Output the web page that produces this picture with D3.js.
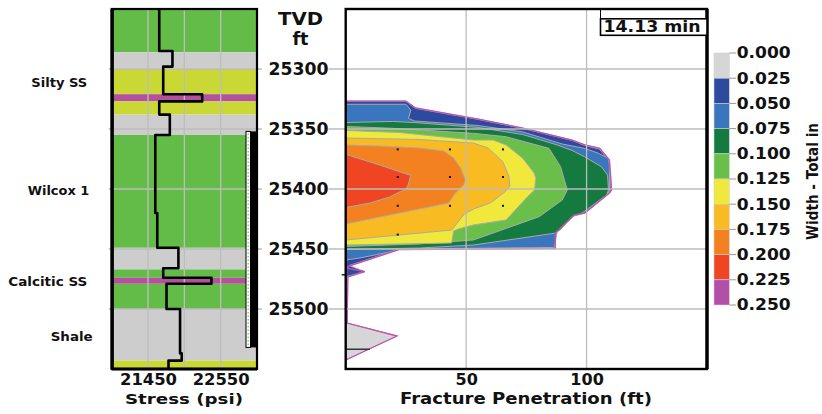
<!DOCTYPE html>
<html><head><meta charset="utf-8">
<script src="https://cdn.jsdelivr.net/npm/d3@7"></script>
<style>
body{margin:0;background:#fff}
svg{display:block}
text{font-family:"DejaVu Sans";font-weight:bold;fill:#111}
</style>
</head><body>
<svg id="c" width="822" height="414"></svg>
<script>
// ---------------- DATA ----------------
const depthTicks = [25300, 25350, 25400, 25450, 25500];
const stressTicks = [21450, 22550];
const stressGrid = [21450, 22000, 22550];
const penTicks = [50, 100];
const widthLevels = [0.000, 0.025, 0.050, 0.075, 0.100, 0.125, 0.150, 0.175, 0.200, 0.225, 0.250];
const levelColors = ["#d6d6d6", "#2e4a9e", "#3a76be", "#157a3f", "#6abf4b", "#f0e83a", "#f9bb22", "#f48120", "#ef4523", "#b34fa8"];

// lithology column
const lithBounds = [25250, 25286, 25300, 25321, 25327, 25338, 25355, 25449, 25467, 25474, 25479, 25500, 25543, 25550];
const lithTypes = ["sand", "shale", "silty", "tight", "silty", "shale", "sand", "shale", "sand", "tight", "sand", "shale", "silty"];

// stress profile (step intervals)
const stressBounds = [25250, 25285, 25298, 25321, 25327, 25338, 25355, 25420, 25449, 25466, 25474, 25479, 25500, 25537, 25543, 25550];
const stressVals = [21620, 21820, 21680, 22270, 21620, 21780, 21560, 21590, 21910, 21680, 22410, 21730, 21935, 21960, 21760];

// formation names and depths
const formationNames = ["Silty SS", "Wilcox 1", "Calcitic SS", "Shale"];
const formationDepths = [25311, 25401.5, 25477, 25523];

// perforated interval
const perfInterval = [25352, 25532];

// fracture width contours [penetration ft, depth ft] : region width >= level
const fracOutline = [[0,25326.7],[25,25326.7],[29,25332.5],[55,25341.7],[73.5,25349.2],[94,25359.2],[99.3,25363.3],[105.5,25366.2],[109.5,25375.8],[110.4,25400.8],[109.5,25403.3],[99.3,25420],[94.8,25421.7],[87,25436.7],[87,25449.6],[22.3,25450.4],[1.4,25464.2],[0.2,25465.8],[7.9,25468.8],[0.9,25473.3],[0.6,25511.7],[21.3,25522.5],[0,25542.5]];
const w025 = [[0,25327],[25,25327],[29,25332.8],[55,25342],[73.5,25349.5],[94,25359.5],[99.3,25363.8],[105.3,25366.7],[109.3,25376],[110.2,25400.8],[109.3,25403],[99.3,25419.7],[94.8,25421.4],[87,25436.4],[87,25449.3],[22.3,25450],[1.4,25463.8],[7.9,25468.7],[0.4,25473]];
const w050 = [[0,25329.4],[25,25329.4],[27,25334.2],[26.1,25341.1],[28.4,25343.3],[55,25347.1],[73.5,25352.5],[89.9,25362.5],[99.3,25366.2],[104.9,25370.2],[109,25374.4],[109.5,25380],[109.5,25400.8],[108.7,25404.2],[99.3,25420.2],[94.8,25422.5],[87.8,25435.8],[86.6,25448.7],[22.3,25450],[18.2,25452.5],[5.9,25457.5],[0,25459.2]];
const w075 = [[0,25344.6],[19.4,25343.7],[28.4,25344.6],[55,25348.7],[73.5,25354.6],[87.8,25363.3],[94,25367.9],[99.3,25373.3],[106.3,25381.7],[108.7,25388.3],[109.1,25400.8],[108.3,25405],[99.3,25418.3],[98.1,25420],[94,25422.9],[89.1,25434.2],[86.6,25436.9],[53,25446.7],[30.5,25449.2],[0,25450.4]];
const w100 = [[0,25347.9],[19.4,25349.4],[53,25353.6],[66.5,25356.4],[84.4,25366.1],[89.2,25381.4],[90.6,25391.1],[92,25400.8],[89.9,25409.2],[80.3,25423.1],[53,25442.5],[30.5,25445.8],[0,25447.9]];
const w125 = [[0,25351.2],[22.3,25352.9],[53,25359.2],[61.2,25359.2],[66.6,25363.3],[73.5,25374.4],[78.3,25386.9],[78.9,25391.1],[78.4,25400.8],[75.5,25406.4],[66.6,25425.8],[53,25430],[46.8,25433.3],[44.8,25435],[44,25445],[22.3,25445.8],[0,25446.7]];
const w150 = [[0,25357.5],[30.5,25358.7],[53,25361.7],[59.1,25365.8],[65.3,25377.5],[67.7,25389.2],[68.2,25397.5],[66.1,25402.5],[60,25411.7],[53,25416.7],[49.3,25420.8],[44,25434.2],[22.3,25438.3],[0,25442.5]];
const w175 = [[0,25363.3],[14.1,25364.2],[30.5,25365.8],[40.7,25368.3],[44.8,25374.2],[47.7,25382.5],[49.7,25392.5],[48.9,25396.7],[45.6,25403.3],[42.7,25411.7],[31.7,25416.2],[18.2,25421.7],[0,25429.2]];
const w200 = [[0,25371.1],[14.1,25380],[27,25388.7],[25.9,25396.7],[24.7,25400.8],[22.3,25402.5],[18.2,25406.7],[10,25411.7],[0,25415.4]];
const contourSets = [fracOutline, w025, w050, w075, w100, w125, w150, w175, w200];

// grid nodes shown as dots
const nodeDots = [[21.6,25367],[43.3,25367],[65.3,25367],[21.6,25390],[43.3,25390],[65.3,25390],[21.6,25414],[43.3,25414],[65.3,25414],[21.6,25438]];
// wellbore trace in lower lobe
const wellTrace = [[0,25533.6],[10,25533.6]];

const timeLabel = "14.13 min";

// ---------------- STYLE / LAYOUT ----------------
const lithColor = {sand: "#64bc48", shale: "#cdcdcd", silty: "#c9d835", tight: "#b5509f"};
const formationLayout = [{x: 87.3, w: 56}, {x: 89.3, w: 61.6}, {x: 87.3, w: 79}, {x: 92.7, w: 42}];
const gridColor = "#bdbdbd";

const svg = d3.select("#c");
const yS = d3.scaleLinear().domain([25250, 25550]).range([9, 369]);
const xS = d3.scaleLinear().domain([20900, 23100]).range([111.7, 257]);
const xP = d3.scaleLinear().domain([0, 150]).range([345.7, 707]);
const lS = d3.scaleLinear().domain([0, 0.25]).range([53, 305]);

// ---------- Left panel ----------
const gL = svg.append("g");
gL.selectAll("rect.lith").data(lithTypes).join("rect")
  .attr("x", xS(20900)).attr("width", xS(23100) - xS(20900))
  .attr("y", (d, i) => yS(lithBounds[i]))
  .attr("height", (d, i) => yS(lithBounds[i + 1]) - yS(lithBounds[i]))
  .attr("fill", d => lithColor[d]);

gL.selectAll("line.vg").data(stressGrid).join("line")
  .attr("x1", d => xS(d)).attr("x2", d => xS(d))
  .attr("y1", yS(25250)).attr("y2", yS(25550))
  .attr("stroke", gridColor).attr("stroke-width", 1.3);
gL.selectAll("line.hg").data(depthTicks).join("line")
  .attr("x1", xS(20900) - 3).attr("x2", xS(23100) + 5)
  .attr("y1", d => yS(d)).attr("y2", d => yS(d))
  .attr("stroke", gridColor).attr("stroke-width", 1.3);

// perforation marker
const pT = yS(perfInterval[0]), pB = yS(perfInterval[1]);
gL.append("rect").attr("x", 246).attr("y", pT).attr("width", 4.5).attr("height", pB - pT)
  .attr("fill", "#fff").attr("stroke", "#000").attr("stroke-width", 1);
gL.append("line").attr("x1", 248.2).attr("x2", 248.2).attr("y1", pT + 2).attr("y2", pB - 2)
  .attr("stroke", "#7cc06a").attr("stroke-width", 1.2).attr("stroke-dasharray", "1.5,2");
gL.append("rect").attr("x", 250.5).attr("y", pT).attr("width", 7).attr("height", pB - pT).attr("fill", "#000");

// stress profile
const stressPts = [];
stressVals.forEach((v, i) => { stressPts.push([v, stressBounds[i]]); stressPts.push([v, stressBounds[i + 1]]); });
gL.append("path")
  .attr("d", d3.line().x(d => xS(d[0])).y(d => yS(d[1]))(stressPts))
  .attr("fill", "none").attr("stroke", "#000").attr("stroke-width", 2.6).attr("stroke-linejoin", "round");

// frame
gL.append("rect").attr("x", xS(20900)).attr("y", yS(25250))
  .attr("width", xS(23100) - xS(20900)).attr("height", yS(25550) - yS(25250))
  .attr("fill", "none").attr("stroke", "#000").attr("stroke-width", 2.2);
gL.append("line").attr("x1", xS(20900) + 0.5).attr("x2", xS(20900) + 0.5).attr("y1", yS(25250)).attr("y2", yS(25550))
  .attr("stroke", "#000").attr("stroke-width", 3.4);
gL.append("line").attr("x1", xS(20900)).attr("x2", xS(23100)).attr("y1", yS(25550)).attr("y2", yS(25550))
  .attr("stroke", "#000").attr("stroke-width", 3);

// formation labels
svg.selectAll("text.form").data(formationNames).join("text")
  .attr("x", (d, i) => formationLayout[i].x)
  .attr("y", (d, i) => yS(formationDepths[i]) + 4.5)
  .attr("text-anchor", "end")
  .attr("font-size", 12.5)
  .attr("textLength", (d, i) => formationLayout[i].w).attr("lengthAdjust", "spacingAndGlyphs")
  .text(d => d);

// stress axis
const aS = svg.append("g").attr("transform", `translate(0,${yS(25550)})`)
  .call(d3.axisBottom(xS).tickValues(stressTicks).tickSize(0).tickPadding(5).tickFormat(d3.format("d")));
aS.select(".domain").remove();
aS.selectAll("text").style("font-family", "DejaVu Sans").style("font-weight", "bold").style("font-size", "16px")
  .attr("textLength", 57).attr("lengthAdjust", "spacingAndGlyphs");
svg.append("text").attr("x", 184).attr("y", 403.5).attr("text-anchor", "middle")
  .attr("font-size", 14.5).attr("textLength", 118).attr("lengthAdjust", "spacingAndGlyphs").text("Stress (psi)");

// TVD axis
svg.append("text").attr("x", 300.5).attr("y", 25).attr("text-anchor", "middle").attr("font-size", 17.5)
  .attr("textLength", 45).attr("lengthAdjust", "spacingAndGlyphs").text("TVD");
svg.append("text").attr("x", 300.5).attr("y", 45).attr("text-anchor", "middle").attr("font-size", 17.5).text("ft");
const aD = svg.append("g").attr("transform", "translate(328.5,0)")
  .call(d3.axisLeft(yS).tickValues(depthTicks).tickSize(0).tickPadding(0).tickFormat(d3.format("d")));
aD.select(".domain").remove();
aD.selectAll("text").style("font-family", "DejaVu Sans").style("font-weight", "bold").style("font-size", "17px")
  .attr("textLength", 60).attr("lengthAdjust", "spacingAndGlyphs");

// ---------- Right contour plot ----------
const defs = svg.append("defs");
defs.append("clipPath").attr("id", "clipP").append("rect")
  .attr("x", xP(0)).attr("y", yS(25250)).attr("width", xP(150) - xP(0)).attr("height", yS(25550) - yS(25250));
const gP = svg.append("g").attr("clip-path", "url(#clipP)");
const poly = d3.line().x(d => xP(d[0])).y(d => yS(d[1]));

gP.selectAll("path.lvl").data(contourSets).join("path")
  .attr("d", d => poly(d) + "Z")
  .attr("fill", (d, i) => levelColors[i])
  .attr("stroke", "#a9a9a9").attr("stroke-width", 1);

// grid lines on top
svg.selectAll("line.pv").data(penTicks).join("line")
  .attr("x1", d => xP(d)).attr("x2", d => xP(d)).attr("y1", yS(25250)).attr("y2", yS(25550))
  .attr("stroke", gridColor).attr("stroke-width", 1.3);
svg.selectAll("line.ph").data(depthTicks).join("line")
  .attr("x1", 328.5).attr("x2", xP(150)).attr("y1", d => yS(d)).attr("y2", d => yS(d))
  .attr("stroke", gridColor).attr("stroke-width", 1.3);

// outer fracture outline
gP.append("path").attr("d", poly(fracOutline))
  .attr("fill", "none").attr("stroke", "#c24fb3").attr("stroke-width", 1.3);

// wellbore trace
gP.append("path").attr("d", poly(wellTrace)).attr("stroke", "#333").attr("stroke-width", 1.5);
svg.append("line").attr("x1", xP(0) - 4).attr("x2", xP(0)).attr("y1", yS(25471.5)).attr("y2", yS(25471.5))
  .attr("stroke", "#000").attr("stroke-width", 1.3);

// node dots
gP.selectAll("rect.dot").data(nodeDots).join("rect")
  .attr("x", d => xP(d[0]) - 1).attr("y", d => yS(d[1]) - 1)
  .attr("width", 2).attr("height", 2).attr("fill", "#111");

// frame
svg.append("rect").attr("x", xP(0)).attr("y", yS(25250))
  .attr("width", xP(150) - xP(0)).attr("height", yS(25550) - yS(25250))
  .attr("fill", "none").attr("stroke", "#000").attr("stroke-width", 2.4);
svg.append("line").attr("x1", xP(150)).attr("x2", xP(150)).attr("y1", yS(25250)).attr("y2", yS(25550))
  .attr("stroke", "#000").attr("stroke-width", 3.4);

// time box
svg.append("line").attr("x1", 600.5).attr("x2", 600.5).attr("y1", 9).attr("y2", 19).attr("stroke", "#000").attr("stroke-width", 1);
svg.append("rect").attr("x", 600.5).attr("y", 18.8).attr("width", xP(150) - 600.5).attr("height", 16.5)
  .attr("fill", "#fff").attr("stroke", "#000").attr("stroke-width", 1.6);
svg.append("text").attr("x", 603.5).attr("y", 32.3).attr("font-size", 16)
  .attr("textLength", 97).attr("lengthAdjust", "spacingAndGlyphs").text(timeLabel);

// penetration axis
const aP = svg.append("g").attr("transform", `translate(0,${yS(25550)})`)
  .call(d3.axisBottom(xP).tickValues(penTicks).tickSize(0).tickPadding(4.5).tickFormat(d3.format("d")));
aP.select(".domain").remove();
aP.selectAll("text").style("font-family", "DejaVu Sans").style("font-weight", "bold").style("font-size", "16px");
svg.append("text").attr("x", 526).attr("y", 403.5).attr("text-anchor", "middle")
  .attr("font-size", 15).attr("textLength", 252).attr("lengthAdjust", "spacingAndGlyphs").text("Fracture Penetration (ft)");

// ---------- Legend ----------
const gG = svg.append("g");
gG.selectAll("rect.sw").data(levelColors).join("rect")
  .attr("x", 714).attr("width", 15.3)
  .attr("y", (d, i) => lS(widthLevels[i]))
  .attr("height", (d, i) => lS(widthLevels[i + 1]) - lS(widthLevels[i]))
  .attr("fill", d => d).attr("stroke", "#d0d0d0").attr("stroke-width", 0.6);
gG.selectAll("line.lt").data(widthLevels).join("line")
  .attr("x1", 729.3).attr("x2", 736).attr("y1", d => lS(d)).attr("y2", d => lS(d))
  .attr("stroke", "#999").attr("stroke-width", 1);
gG.selectAll("text.lb").data(widthLevels).join("text")
  .attr("x", 736.7).attr("y", d => lS(d)).attr("dy", "0.36em")
  .attr("font-size", 15).attr("textLength", 54).attr("lengthAdjust", "spacingAndGlyphs")
  .text(d => d3.format(".3f")(d));
svg.append("text").attr("transform", "translate(817.5,181.5) rotate(-90)")
  .attr("text-anchor", "middle").attr("font-size", 15)
  .attr("textLength", 117).attr("lengthAdjust", "spacingAndGlyphs").text("Width - Total in");
</script>
</body></html>
